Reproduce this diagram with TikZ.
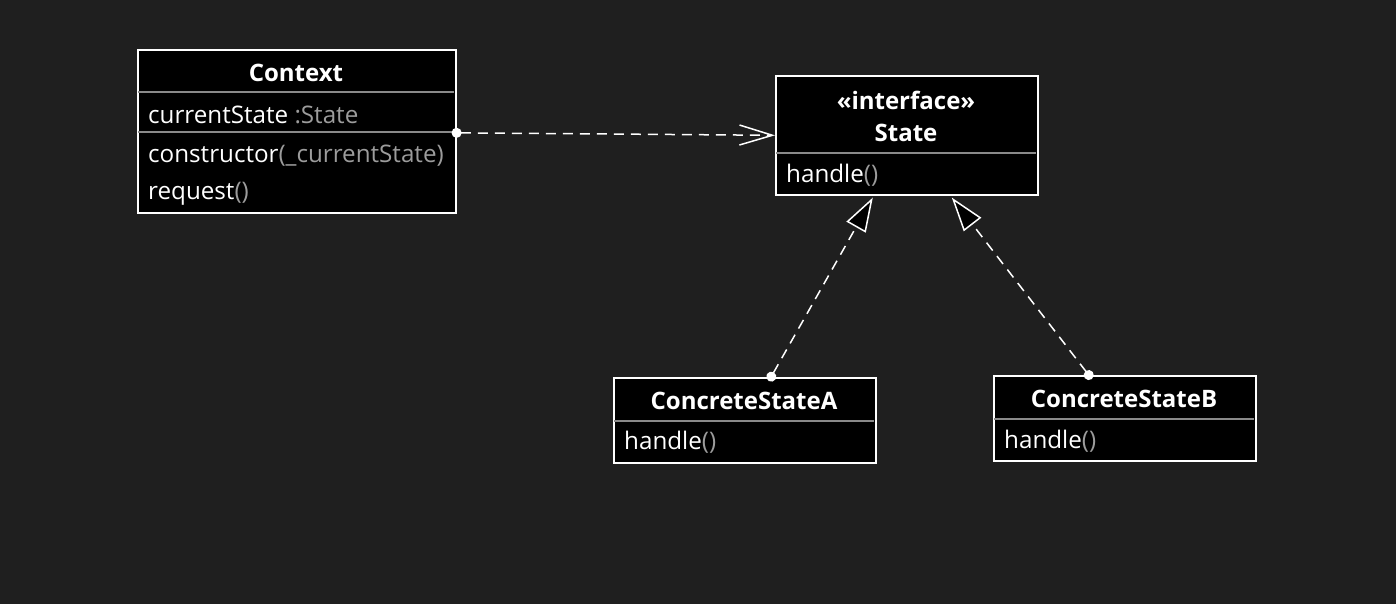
\documentclass[tikz,border=0pt]{standalone}
\usepackage{fontspec}
\setmainfont{Open Sans}
\usetikzlibrary{arrows.meta}
\definecolor{canvas}{HTML}{1F1F1F}
\definecolor{rulegray}{HTML}{8A8A8A}
\definecolor{typegray}{HTML}{9C9C9C}
\newcommand{\typ}[1]{\textcolor{typegray}{#1}}
\begin{document}
\begin{tikzpicture}[x=1pt, y=-1pt,
    classbox/.style={draw=white, fill=black, line width=1.6pt, inner sep=0pt, anchor=north west},
    classname/.style={text=white, inner sep=0pt, font=\fontsize{24}{28}\selectfont\bfseries},
    member/.style={text=white, inner sep=0pt, anchor=west, font=\fontsize{24.2}{28}\selectfont},
    divider/.style={draw=rulegray, line width=1.6pt},
    dep/.style={draw=white, line width=1.5pt, dash pattern=on 10pt off 7pt}]
    \fill[canvas] (0, 0) rectangle (1396, 604);
    \node[classbox, minimum width=318, minimum height=163] (context) at (137, 49) {};
    \node[classbox, minimum width=262, minimum height=119] (state) at (775, 75) {};
    \node[classbox, minimum width=262, minimum height=85] (stateA) at (613, 377) {};
    \node[classbox, minimum width=262, minimum height=85] (stateB) at (993, 375) {};
    \draw[divider] (138, 92) -- (454, 92);
    \draw[divider] (138, 132) -- (454, 132);
    \draw[divider] (776, 153) -- (1036, 153);
    \draw[divider] (614, 421) -- (874, 421);
    \draw[divider] (994, 419) -- (1254, 419);
    \node[classname] (contextName) at (296, 73) {Context};
    \node[member] (contextAttr) at (148, 115) {currentState \typ{:State}};
    \node[member] (contextCtor) at (148, 156) {constructor\typ{(\_currentState)}};
    \node[member] (contextReq) at (148, 194) {request\typ{()}};
    \node[classname] (stateTag) at (906, 100) {«interface»};
    \node[classname] (stateName) at (906, 133) {State};
    \node[member] (stateOp) at (786, 175) {handle\typ{()}};
    \node[classname] (stateAName) at (744, 401) {ConcreteStateA};
    \node[member] (stateAOp) at (624, 442) {handle\typ{()}};
    \node[classname] (stateBName) at (1124, 399) {ConcreteStateB};
    \node[member] (stateBOp) at (1004, 441) {handle\typ{()}};
    \draw[dep, {Circle[length=10pt]}-{Straight Barb[length=33pt, width=20pt]}]
      ([xshift=-5, yshift=-1.5]context.east) -- (state.west);
    \draw[dep, {Circle[length=10pt]}-{Triangle[length=34pt, width=22pt, fill=black]}]
      ([xshift=24, yshift=-4]stateA.north) -- ([xshift=-34, yshift=-2]state.south);
    \draw[dep, {Circle[length=10pt]}-{Triangle[length=34pt, width=22pt, fill=black]}]
      ([xshift=-33, yshift=-4]stateB.north) -- ([xshift=45, yshift=-2]state.south);
\end{tikzpicture}
\end{document}
